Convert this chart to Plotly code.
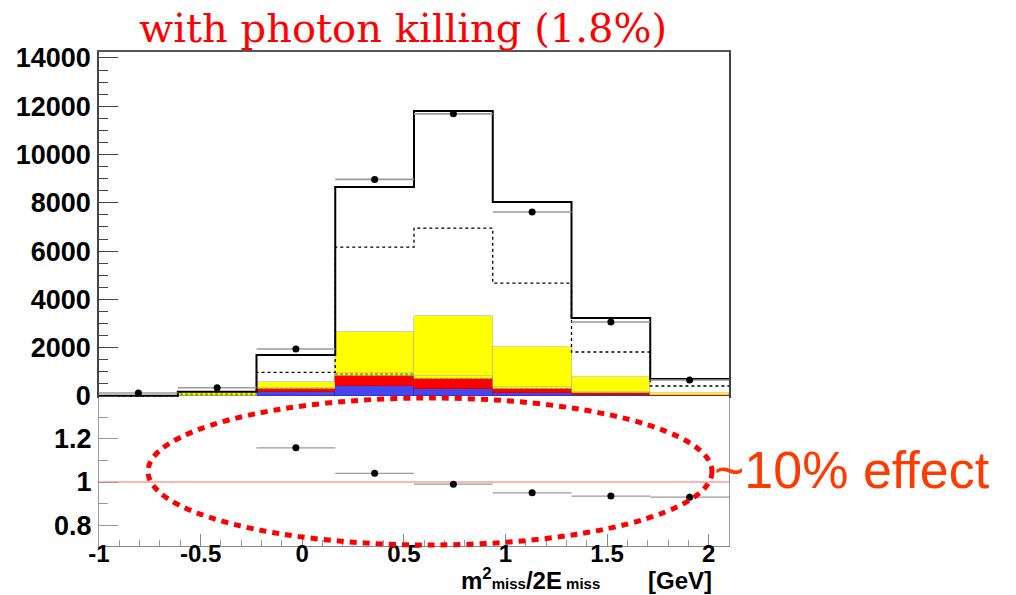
import numpy as np
import plotly.graph_objects as go

# ---------------- data ----------------
bin_edges = [-1.0, -0.6125, -0.225, 0.1625, 0.55, 0.9375, 1.325, 1.7125, 2.1]
mc_total = [10, 178, 1697, 8653, 11800, 8032, 3229, 704]
mc_dotted = [10, 178, 981, 6170, 6955, 4678, 1822, 414]
blue_comp = [0, 0, 150, 426, 277, 124, 30, 0]
red_comp = [0, 0, 140, 414, 414, 153, 94, 40]
hatched_comp = [0, 170, 30, 110, 130, 80, 30, 20]
yellow_comp = [0, 0, 245, 1710, 2509, 1684, 646, 80]
data_counts = [124, 344, 1946, 8971, 11687, 7618, 3064, 662]
data_err = [25, 40, 70, 110, 120, 100, 60, 30]
ratio_vals = [None, None, 1.158, 1.04, 0.99, 0.95, 0.935, 0.93]
ratio_err = [0, 0, 0.016, 0.006, 0.004, 0.004, 0.005, 0.02]

y_ticks_top = [0, 2000, 4000, 6000, 8000, 10000, 12000, 14000]
y_ticks_ratio = [0.8, 1.0, 1.2]
y_ticklabels_ratio = ["0.8", "1", "1.2"]
x_ticks = [-1, -0.5, 0, 0.5, 1, 1.5, 2]
x_ticklabels = ["-1", "-0.5", "0", "0.5", "1", "1.5", "2"]

title_text = "with photon killing (1.8%)"
effect_text = "~10% effect"

# ---------------- derived ----------------
edges = np.array(bin_edges)
centers = 0.5 * (edges[:-1] + edges[1:])
widths = np.diff(edges)
half = widths / 2

W, H = 1016, 595
L, R, T, B = 99, 1016 - 729, 52, 595 - 546
PH = H - T - B
split = (546 - 398) / PH


def px2x(px):
    return (px - L) / (W - L - R)


def py2y(py):
    return (H - B - py) / PH


AX_FONT = dict(family="Liberation Sans, Arial, sans-serif", size=27, color="black", weight="bold")
X_FONT = dict(family="Liberation Sans, Arial, sans-serif", size=24, color="black", weight="bold")

fig = go.Figure()

# stacked filled components
for vals, col, line_col, pat in [
    (blue_comp, "#4646f0", "#2a2ab0", None),
    (red_comp, "#ff0000", "#cc0000", None),
    (hatched_comp, "#ffff00", "#8a8a30", "."),
    (yellow_comp, "#ffff00", "#b8b8a0", None),
]:
    marker = dict(color=col, line=dict(color=line_col, width=0.6))
    if pat:
        marker["pattern"] = dict(shape=pat, fgcolor="#555544", bgcolor=col, size=5, solidity=0.35)
    fig.add_trace(go.Bar(x=centers, y=vals, width=widths, marker=marker,
                         xaxis="x", yaxis="y", showlegend=False, hoverinfo="skip"))

# dotted component outline
fig.add_trace(go.Scatter(x=edges, y=list(mc_dotted) + [mc_dotted[-1]], mode="lines",
                         line=dict(shape="hv", color="black", width=1.3, dash="dot"),
                         xaxis="x", yaxis="y", showlegend=False, hoverinfo="skip"))
# total MC outline
fig.add_trace(go.Scatter(x=edges, y=list(mc_total) + [mc_total[-1]], mode="lines",
                         line=dict(shape="hv", color="black", width=2),
                         xaxis="x", yaxis="y", showlegend=False, hoverinfo="skip"))

# data points
fig.add_trace(go.Scatter(
    x=centers, y=data_counts, mode="markers",
    marker=dict(color="black", size=7),
    error_x=dict(type="data", array=half, color="#9a9a9a", thickness=1.6, width=0),
    error_y=dict(type="data", array=data_err, color="#9a9a9a", thickness=1, width=0),
    xaxis="x", yaxis="y", showlegend=False, hoverinfo="skip"))

# ratio points
fig.add_trace(go.Scatter(
    x=centers, y=ratio_vals, mode="markers",
    marker=dict(color="black", size=7),
    error_x=dict(type="data", array=half, color="#9a9a9a", thickness=1.3, width=0),
    error_y=dict(type="data", array=ratio_err, color="#9a9a9a", thickness=1, width=0),
    xaxis="x2", yaxis="y2", showlegend=False, hoverinfo="skip"))

# invisible trace so the tick-label axis is rendered
fig.add_trace(go.Scatter(x=[None], y=[None], xaxis="x3", yaxis="y2",
                         showlegend=False, hoverinfo="skip"))

fig.update_layout(
    width=W, height=H,
    margin=dict(l=L, r=R, t=T, b=B, autoexpand=False),
    paper_bgcolor="white", plot_bgcolor="white",
    barmode="stack", bargap=0,
    xaxis=dict(domain=[0, 1], range=[-1.0, 2.1], anchor="y", side="top",
               showline=True, linecolor="#555", linewidth=1.5, showgrid=False,
               zeroline=False, showticklabels=False, ticks=""),
    yaxis=dict(domain=[split, 1], range=[-83, 14248], anchor="x",
               showline=True, linecolor="#444", linewidth=1.5, mirror=True,
               showgrid=False, zeroline=False,
               tickvals=y_ticks_top, ticktext=[str(v) for v in y_ticks_top],
               ticks="inside", ticklen=19, tickcolor="#444", tickwidth=1.3,
               minor=dict(dtick=500, ticks="inside", ticklen=9, tickcolor="#444", tickwidth=1.2),
               tickfont=AX_FONT, ticklabelstandoff=1),
    xaxis2=dict(domain=[0, 1], range=[-1.0, 2.1], anchor="y2",
                showline=True, linecolor="#888", linewidth=1.3, showgrid=False,
                zeroline=False, tickvals=x_ticks, showticklabels=False,
                ticks="inside", ticklen=12, tickcolor="#888", tickwidth=1,
                minor=dict(dtick=0.1, tick0=-1, ticks="inside", ticklen=6, tickcolor="#999")),
    xaxis3=dict(range=[-1.0, 2.1], overlaying="x2", anchor="free", position=9 / PH,
                side="bottom", showline=False, showgrid=False, zeroline=False, ticks="",
                tickvals=x_ticks, ticktext=x_ticklabels, tickfont=X_FONT,
                ticklabelstandoff=0),
    yaxis2=dict(domain=[0, split], range=[0.7044, 1.388], anchor="x2",
                showline=True, linecolor="#999", linewidth=1.3, mirror=True,
                showgrid=False, zeroline=False,
                tickvals=y_ticks_ratio, ticktext=y_ticklabels_ratio,
                ticks="inside", ticklen=19, tickcolor="#999", tickwidth=1,
                minor=dict(dtick=0.1, tick0=0.8, ticks="inside", ticklen=9, tickcolor="#999"),
                tickfont=AX_FONT, ticklabelstandoff=1),
)

# reference line at 1 in ratio panel
fig.add_shape(type="line", xref="x2 domain", yref="y2", x0=0, x1=1, y0=1, y1=1,
              line=dict(color="#ff9a9a", width=1.3), layer="below")

# dotted red ellipse
fig.add_shape(type="circle", xref="paper", yref="paper",
              x0=px2x(148), x1=px2x(712), y0=py2y(545), y1=py2y(398),
              line=dict(color="#ff0000", width=5, dash="7px,6px"))

# title
fig.add_annotation(text=title_text, xref="paper", yref="paper",
                   x=px2x(403), y=py2y(28), xanchor="center", yanchor="middle",
                   showarrow=False,
                   font=dict(family="DejaVu Serif, serif", size=40, color="#ff0000"))

# effect label
fig.add_annotation(text=effect_text, xref="paper", yref="paper",
                   x=px2x(712), y=py2y(470), xanchor="left", yanchor="middle",
                   showarrow=False,
                   font=dict(family="Liberation Sans, Arial, sans-serif", size=52, color="#ff3a00"))

# x-axis title
fig.add_annotation(text="<b>m<sup>2</sup><span style='font-size:15px'>miss</span>/2E<span style='font-size:15px'> miss</span></b>",
                   xref="paper", yref="paper", x=px2x(459), y=py2y(579),
                   xanchor="left", yanchor="middle", showarrow=False,
                   font=dict(family="Liberation Sans, Arial, sans-serif", size=24, color="black"))
fig.add_annotation(text="<b>[GeV]</b>", xref="paper", yref="paper",
                   x=px2x(714), y=py2y(580), xanchor="right", yanchor="middle",
                   showarrow=False,
                   font=dict(family="Liberation Sans, Arial, sans-serif", size=24, color="black"))

fig.write_html("out.html", config={"displayModeBar": False},
               post_script="document.body.style.margin='0';document.body.style.padding='0';")
